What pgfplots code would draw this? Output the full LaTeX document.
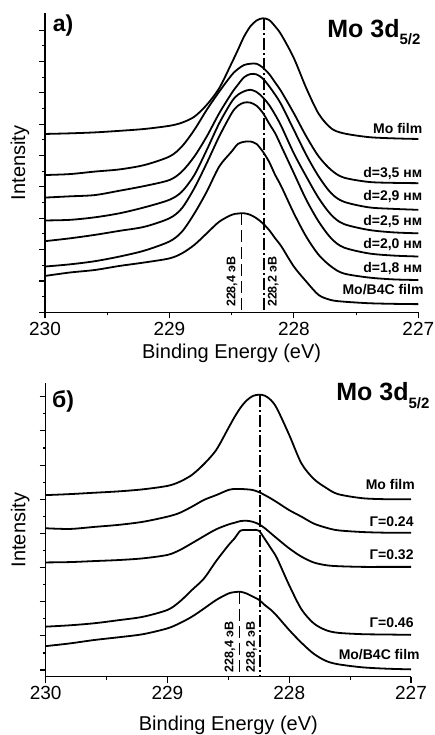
\documentclass[border=0pt]{standalone}
\usepackage{fontspec}
\setmainfont{Liberation Sans}
\usepackage{pgfplots}
\pgfplotsset{compat=1.18}

\pgfplotsset{
  xpsaxis/.style={
    scale only axis,
    axis x line*=bottom,
    axis y line*=left,
    axis line style={line width=1.1pt},
    x dir=reverse,
    xmin=227, xmax=230,
    xtick={227,228,229,230},
    minor x tick num=1,
    minor y tick num=1,
    tick align=outside,
    major tick length=6pt,
    minor tick length=3pt,
    tick style={black, line width=1.1pt},
    yticklabels={},
    /pgf/number format/assume math mode=true,
    xticklabel style={font=\fontsize{19}{19}\selectfont},
    label style={font=\fontsize{20}{20}\selectfont},
    clip=false,
  },
  crv/.style={black, line width=1.8pt, smooth, no markers},
}
\tikzset{
  lbl/.style={anchor=east, font=\bfseries\fontsize{14}{14}\selectfont},
  vlbl/.style={rotate=90, font=\bfseries\fontsize{12.5}{12.5}\selectfont},
}

\begin{document}
\begin{tikzpicture}
\useasboundingbox (0,0) rectangle (435pt,-735pt);

% ---------- a) ----------
\begin{axis}[xpsaxis,
    at={(45pt,-312.3pt)}, anchor=south west,
    width=373.3pt, height=299pt,
    ymin=0, ymax=95.4,
    ytick={0,10,...,90},
    xlabel={Binding Energy (eV)},
    ylabel={Intensity},
    xlabel style={at={(axis description cs:0.5,-0.136)}, anchor=center},
    ylabel style={at={(axis description cs:-0.067,0.5)}, anchor=center, rotate=0},
]
% Mo film
\addplot[crv] coordinates {(230,56.9) (229.8,57.1) (229.6,57.4) (229.4,57.9) (229.2,58.5) (229.0,59.5) (228.9,60.5) (228.8,62.4) (228.7,66.2) (228.6,71.5) (228.5,79.5) (228.45,83.7) (228.4,88.0) (228.35,91.2) (228.3,93.1) (228.25,93.8) (228.2,93.3) (228.15,91.2) (228.1,88.5) (228.0,81.1) (227.9,71.5) (227.8,63.3) (227.7,58.7) (227.6,57.1) (227.4,55.9) (227.2,55.5) (227.0,55.3)};
% d=3,5
\addplot[crv] coordinates {(230,43.8) (229.8,44.1) (229.6,44.9) (229.4,45.6) (229.2,47.0) (229.0,49.7) (228.9,52.9) (228.8,58.2) (228.7,64.6) (228.6,70.4) (228.5,75.7) (228.45,77.6) (228.4,78.9) (228.35,79.3) (228.3,79.3) (228.25,78.1) (228.2,76.1) (228.15,73.3) (228.1,70.4) (228.0,63.5) (227.9,56.1) (227.8,49.7) (227.7,45.4) (227.6,43.0) (227.4,41.6) (227.2,41.3) (227.0,41.2)};
% d=2,9
\addplot[crv] coordinates {(230,36.6) (229.8,37.0) (229.6,37.4) (229.4,38.8) (229.2,40.3) (229.0,42.2) (228.9,44.9) (228.8,49.7) (228.7,56.1) (228.6,63.5) (228.5,69.9) (228.45,72.6) (228.4,75.0) (228.35,76.0) (228.3,75.9) (228.25,74.6) (228.2,72.2) (228.15,69.4) (228.1,66.2) (228.0,58.2) (227.9,50.2) (227.8,43.3) (227.7,38.0) (227.6,35.3) (227.4,33.5) (227.2,33.0) (227.0,32.7)};
% d=2,5
\addplot[crv] coordinates {(230,29.3) (229.8,29.5) (229.6,30.3) (229.4,31.6) (229.2,33.5) (229.0,35.9) (228.9,38.5) (228.8,43.8) (228.7,51.8) (228.6,60.3) (228.5,67.2) (228.45,69.4) (228.4,70.5) (228.35,71.0) (228.3,70.3) (228.25,68.6) (228.2,66.2) (228.15,63.0) (228.1,59.3) (228.0,50.7) (227.9,43.3) (227.8,36.4) (227.7,31.1) (227.6,28.2) (227.4,26.3) (227.2,25.5) (227.0,25.2)};
% d=2,0
\addplot[crv] coordinates {(230,22.7) (229.8,23.6) (229.6,24.7) (229.4,26.0) (229.2,27.3) (229.0,30.0) (228.9,33.2) (228.8,39.6) (228.7,47.6) (228.6,56.1) (228.5,63.5) (228.45,65.9) (228.4,66.9) (228.35,66.9) (228.3,65.9) (228.25,63.7) (228.2,60.3) (228.15,57.1) (228.1,52.9) (228.0,44.4) (227.9,35.9) (227.8,28.9) (227.7,23.6) (227.6,20.7) (227.4,18.8) (227.2,18.1) (227.0,17.8)};
% d=1,8
\addplot[crv] coordinates {(230,14.6) (229.8,15.3) (229.6,16.3) (229.4,17.8) (229.2,19.7) (229.0,22.6) (228.9,25.7) (228.8,31.5) (228.7,38.5) (228.6,46.5) (228.5,51.3) (228.45,53.7) (228.4,54.4) (228.35,54.5) (228.3,53.7) (228.25,51.3) (228.2,48.1) (228.15,43.8) (228.1,40.1) (228.0,31.6) (227.9,24.1) (227.8,18.3) (227.7,14.6) (227.6,12.4) (227.4,11.1) (227.2,10.5) (227.0,10.3)};
% Mo/B4C film
\addplot[crv] coordinates {(230,11.6) (229.8,12.7) (229.6,13.5) (229.4,14.8) (229.2,15.9) (229.0,17.2) (228.9,18.8) (228.8,21.5) (228.7,25.2) (228.6,28.9) (228.5,31.1) (228.45,31.5) (228.4,31.6) (228.35,31.1) (228.3,30.0) (228.25,28.4) (228.2,26.3) (228.15,23.6) (228.1,21.0) (228.0,14.6) (227.9,9.8) (227.8,5.5) (227.7,3.9) (227.6,3.4) (227.4,2.9) (227.2,2.7) (227.0,2.6)};
% peak positions
\addplot[black, line width=1.5pt, dash pattern=on 12pt off 5pt] coordinates {(228.42,31.6) (228.42,0)};
\addplot[black, line width=1.5pt, dash pattern=on 12pt off 3pt on 2pt off 3pt] coordinates {(228.24,93.8) (228.24,0)};

\node[vlbl] at (axis cs:228.497,9.8) {228,4 эВ};
\node[vlbl] at (axis cs:228.165,9.8) {228,2 эВ};

\node[lbl] at (axis cs:226.94,58.7) {Mo film};
\node[lbl] at (axis cs:226.94,44.4) {d=3,5 нм};
\node[lbl] at (axis cs:226.94,37.1) {d=2,9 нм};
\node[lbl] at (axis cs:226.94,29.1) {d=2,5 нм};
\node[lbl] at (axis cs:226.94,21.5) {d=2,0 нм};
\node[lbl] at (axis cs:226.94,14.0) {d=1,8 нм};
\node[lbl] at (axis cs:226.93,7.1) {Mo/B4C film};
\end{axis}

% ---------- б) ----------
\begin{axis}[xpsaxis,
    at={(45.7pt,-676.7pt)}, anchor=south west,
    width=365.3pt, height=293.3pt,
    ymin=-1.95, ymax=83.9,
    ytick={0,10,...,80},
    xlabel={Binding Energy (eV)},
    ylabel={Intensity},
    xlabel style={at={(axis description cs:0.5,-0.165)}, anchor=center},
    ylabel style={at={(axis description cs:-0.070,0.5)}, anchor=center, rotate=0},
]
% Mo film
\addplot[crv] coordinates {(230,51.2) (229.8,51.5) (229.6,51.9) (229.4,52.3) (229.2,52.9) (229.0,53.9) (228.9,55.1) (228.8,57.1) (228.7,60.3) (228.6,64.4) (228.5,70.8) (228.45,74.0) (228.4,76.8) (228.35,78.9) (228.3,80.2) (228.25,80.6) (228.2,80.3) (228.15,79.0) (228.1,76.5) (228.0,68.8) (227.9,60.5) (227.8,56.0) (227.7,53.4) (227.6,51.5) (227.4,50.3) (227.2,50.0) (227.0,50.0)};
% G=0.24
\addplot[crv] coordinates {(230,41.5) (229.8,41.3) (229.6,41.9) (229.4,42.5) (229.2,43.4) (229.0,44.9) (228.9,46.0) (228.8,47.8) (228.7,49.8) (228.6,51.2) (228.5,52.7) (228.45,53.0) (228.4,53.0) (228.35,52.9) (228.3,52.7) (228.25,52.1) (228.2,51.2) (228.15,50.2) (228.1,49.1) (228.0,46.8) (227.9,44.9) (227.8,42.9) (227.7,41.7) (227.6,40.9) (227.4,40.4) (227.2,40.2) (227.0,40.2)};
% G=0.32
\addplot[crv] coordinates {(230,31.5) (229.8,31.6) (229.6,31.9) (229.4,32.2) (229.2,32.7) (229.0,33.7) (228.9,35.1) (228.8,37.1) (228.7,39.2) (228.6,41.2) (228.5,42.6) (228.45,43.1) (228.4,43.6) (228.35,43.7) (228.3,43.4) (228.25,42.7) (228.2,41.5) (228.15,40.0) (228.1,38.5) (228.0,35.6) (227.9,33.2) (227.8,31.5) (227.7,30.7) (227.6,30.4) (227.4,30.2) (227.2,30.2) (227.0,30.2)};
% G=0.46
\addplot[crv] coordinates {(230,12.7) (229.8,13.1) (229.6,13.7) (229.4,14.6) (229.2,15.6) (229.0,17.6) (228.9,20.0) (228.8,23.4) (228.7,26.8) (228.6,31.9) (228.5,36.5) (228.45,38.5) (228.4,40.8) (228.35,41.0) (228.3,41.0) (228.25,40.8) (228.2,38.3) (228.15,35.6) (228.1,32.7) (228.0,24.8) (227.9,17.8) (227.8,13.7) (227.7,11.7) (227.6,10.9) (227.4,10.5) (227.2,10.4) (227.0,10.3)};
% Mo/B4C film
\addplot[crv] coordinates {(230,7.0) (229.8,7.8) (229.6,8.8) (229.4,9.6) (229.2,10.5) (229.0,12.2) (228.9,13.7) (228.8,15.6) (228.7,18.0) (228.6,20.5) (228.5,22.4) (228.45,22.8) (228.4,22.9) (228.35,22.4) (228.3,21.5) (228.25,20.6) (228.2,19.0) (228.15,17.6) (228.1,15.8) (228.0,11.7) (227.9,8.0) (227.8,4.8) (227.7,2.7) (227.6,1.7) (227.4,0.8) (227.2,0.4) (227.0,0.2)};
% peak positions
\addplot[black, line width=1.5pt, dash pattern=on 12pt off 5pt] coordinates {(228.41,22.9) (228.41,-1.95)};
\addplot[black, line width=1.5pt, dash pattern=on 12pt off 3pt on 2pt off 3pt] coordinates {(228.24,80.5) (228.24,-1.95)};

\node[vlbl] at (axis cs:228.487,6.8) {228,4 эВ};
\node[vlbl] at (axis cs:228.31,6.8) {228,2 эВ};

\node[lbl] at (axis cs:226.94,54.4) {Mo film};
\node[lbl] at (axis cs:226.95,43.4) {Γ=0.24};
\node[lbl] at (axis cs:226.95,33.7) {Γ=0.32};
\node[lbl] at (axis cs:226.95,13.9) {Γ=0.46};
\node[lbl] at (axis cs:226.90,4.4) {Mo/B4C film};
\end{axis}

% panel titles
\node[font=\bfseries\fontsize{23}{23}\selectfont] at (63pt,-26pt) {a)};
\node[anchor=base east, font=\bfseries\fontsize{25}{25}\selectfont] at (424pt,-37.5pt) {Mo 3d\raisebox{-0.3em}{\fontsize{15}{15}\selectfont 5/2}};
\node[font=\bfseries\fontsize{23}{23}\selectfont] at (63pt,-401pt) {б)};
\node[anchor=base east, font=\bfseries\fontsize{25}{25}\selectfont] at (433pt,-400.7pt) {Mo 3d\raisebox{-0.3em}{\fontsize{15}{15}\selectfont 5/2}};
\end{tikzpicture}
\end{document}
